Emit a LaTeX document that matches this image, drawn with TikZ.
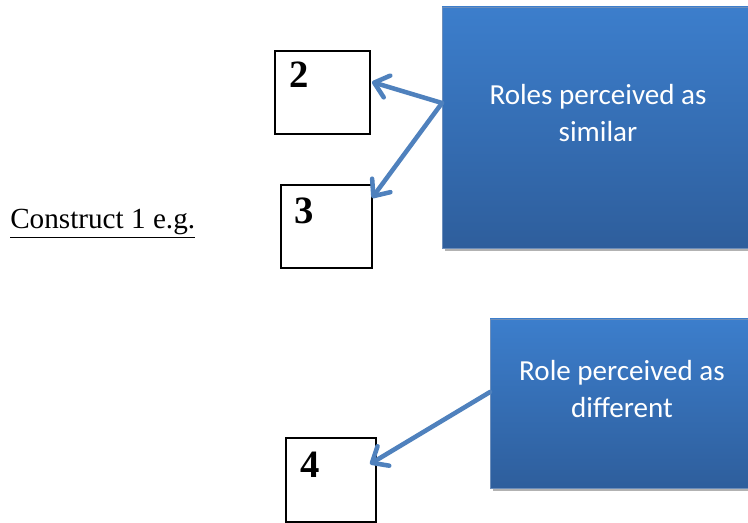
\documentclass[tikz,border=0pt]{standalone}
\usepackage{fontspec}
\setmainfont{Liberation Serif}
\newfontfamily\calibri{Carlito}
\usepackage{tikz}
\usetikzlibrary{calc,arrows.meta,shadows}
\definecolor{arrowblue}{RGB}{79,129,189}
\definecolor{boxtop}{RGB}{60,126,204}
\definecolor{boxbottom}{RGB}{46,94,156}

\begin{document}
\begin{tikzpicture}[x=0.75pt,y=-0.75pt,
  rolebox/.style={draw=black,line width=1.5pt,rectangle,inner sep=0pt,outer sep=0pt},
  bluebox/.style={rectangle,inner sep=0pt,outer sep=0pt,top color=boxtop,bottom color=boxbottom,
    draw=boxbottom!70!white,line width=0.4pt,
    drop shadow={shadow xshift=2pt,shadow yshift=-2.5pt,opacity=0.3,fill=black}},
  bluetext/.style={text=white,font=\calibri\fontsize{21.8}{27.75}\selectfont,align=center,inner sep=0pt},
  num/.style={font=\bfseries\fontsize{29}{29}\selectfont,inner sep=0pt},
  arr/.style={draw=arrowblue,line width=3.4pt,line cap=round,-{Straight Barb[length=10pt,width=17pt,round]}}]
\def\px{0.75pt}
\useasboundingbox (0,0) rectangle (748,523);

\node[anchor=base west,inner sep=0pt,font=\fontsize{21.9}{26}\selectfont] (construct) at (10,229) {\underline{Construct 1 e.g.}};

\node[rolebox,minimum width=95*\px,minimum height=83*\px] (b2) at (322.5,92.5) {};
\node[rolebox,minimum width=91*\px,minimum height=83*\px] (b3) at (326.5,226.5) {};
\node[rolebox,minimum width=90*\px,minimum height=84*\px] (b4) at (331,480) {};
\node[num] (n2) at ($(b2.north west)+(24,24)$) {2};
\node[num] (n3) at ($(b3.north west)+(23,26)$) {3};
\node[num] (n4) at ($(b4.north west)+(24,27)$) {4};

\node[bluebox,minimum width=310*\px,minimum height=241*\px] (similar) at (597,127.5) {};
\node[bluetext] (tsimilar) at ($(similar.center)+(1,-14)$) {Roles perceived as\\similar};
\node[bluebox,minimum width=262*\px,minimum height=169*\px] (different) at (621,403.5) {};
\node[bluetext] (tdifferent) at ($(different.center)+(1,-14)$) {Role perceived as\\different};

\draw[arr] ($(similar.west)+(0,-24.5)$) -- ($(b2.east)+(2,-10.5)$);
\draw[arr] ($(similar.west)+(0,-24.5)$) -- ($(b3.east)+(0,-28.5)$);
\draw[arr] ($(different.west)+(0,-11.5)$) -- ($(b4.east)+(-6,-16)$);
\end{tikzpicture}
\end{document}
